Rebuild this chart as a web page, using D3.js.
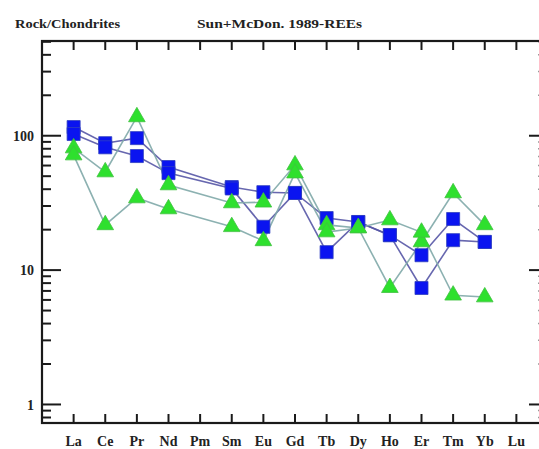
<!DOCTYPE html>
<html><head><meta charset="utf-8">
<script src="https://cdn.jsdelivr.net/npm/d3@7"></script>
<style>body{margin:0;background:#fff}svg{display:block}</style>
</head><body>
<script>
const elements = ["La","Ce","Pr","Nd","Pm","Sm","Eu","Gd","Tb","Dy","Ho","Er","Tm","Yb","Lu"];
// null = not analysed (Pm, Lu)
const blueA  = [116, 88, 96, 58.5, null, 41.5, 38, 37.5, 24.4, 22.8, 18.2, 12.9, 24, 16.2, null];
const blueB  = [103, 82, 70.6, 52.7, null, 40.5, 21, 37.5, 13.6, 22.8, 18.2, 7.36, 16.7, 16.2, null];
const greenA = [81, 53.7, 138, 43, null, 31.6, 32, 60.5, 21.7, 20.6, 7.4, 16.2, 37.5, 21.7, null];
const greenB = [71.8, 21.7, 34.4, 28.5, null, 21, 16.5, 52.7, 19.2, 20.6, 23.6, 19.1, 6.5, 6.3, null];
const yMajorTicks = [1, 10, 100];
const yTickLabels = ["1", "10", "100"];
const yLabel = "Rock/Chondrites";
const title = "Sun+McDon. 1989-REEs";

const W = 539, H = 449;
const L = 42, R = 548, T = 41, B = 423;
const svg = d3.select("body").append("svg").attr("width", W).attr("height", H);

const x = d3.scaleLinear().domain([0, elements.length + 1]).range([L, R]);
const y = d3.scaleLog().domain([0.728, 507]).range([B, T]);

const font = "'Liberation Serif','Times New Roman',serif";
const axisColor = "#1a1a1a";

// minor ticks
const minors = [];
[0.1, 1, 10, 100].forEach(d => { for (let k = 1; k <= 9; k++) { const v = d * k; if (v >= 0.728 && v <= 507 && !yMajorTicks.includes(v)) minors.push(v); } });

const g = svg.append("g");
// Left axis ticks
g.selectAll(".ylmaj").data(yMajorTicks).join("line")
  .attr("x1", L).attr("x2", L + 19).attr("y1", d => y(d)).attr("y2", d => y(d))
  .attr("stroke", axisColor).attr("stroke-width", 2);
g.selectAll(".ylmin").data(minors).join("line")
  .attr("x1", L).attr("x2", L + 9).attr("y1", d => y(d)).attr("y2", d => y(d))
  .attr("stroke", axisColor).attr("stroke-width", 2);
// Right axis ticks
g.selectAll(".yrmaj").data(yMajorTicks).join("line")
  .attr("x1", R).attr("x2", R - 19).attr("y1", d => y(d)).attr("y2", d => y(d))
  .attr("stroke", axisColor).attr("stroke-width", 2);
g.selectAll(".yrmin").data(minors).join("line")
  .attr("x1", R).attr("x2", R - 10).attr("y1", d => y(d)).attr("y2", d => y(d))
  .attr("stroke", "#999").attr("stroke-width", 1.5);
// top/bottom ticks
const idx = elements.map((e, i) => i + 1);
g.selectAll(".xt").data(idx).join("line")
  .attr("x1", d => x(d)).attr("x2", d => x(d)).attr("y1", T).attr("y2", T + 9)
  .attr("stroke", axisColor).attr("stroke-width", 2);
g.selectAll(".xb").data(idx).join("line")
  .attr("x1", d => x(d)).attr("x2", d => x(d)).attr("y1", B).attr("y2", B - 9)
  .attr("stroke", axisColor).attr("stroke-width", 2);
// frame
g.append("rect").attr("x", L).attr("y", T).attr("width", R - L).attr("height", B - T)
  .attr("fill", "none").attr("stroke", axisColor).attr("stroke-width", 2.2);

// tick labels
g.selectAll(".yl").data(yMajorTicks).join("text")
  .attr("x", 34).attr("y", d => y(d)).attr("dy", "0.36em").attr("text-anchor", "end")
  .attr("font-family", font).attr("font-size", 14).attr("font-weight", "bold").attr("fill", "#222")
  .text((d, i) => yTickLabels[i]);
g.selectAll(".xl").data(elements).join("text")
  .attr("x", (d, i) => x(i + 1)).attr("y", 446).attr("text-anchor", "middle")
  .attr("font-family", font).attr("font-size", 14).attr("font-weight", "bold").attr("fill", "#222")
  .text(d => d);

svg.append("text").attr("x", 15).attr("y", 28).attr("font-family", font).attr("font-size", 13)
  .attr("font-weight", "bold").attr("fill", "#222").attr("textLength", 105).attr("lengthAdjust", "spacingAndGlyphs").text(yLabel);
svg.append("text").attr("x", 197).attr("y", 28).attr("font-family", font).attr("font-size", 13)
  .attr("font-weight", "bold").attr("fill", "#222").attr("textLength", 165).attr("lengthAdjust", "spacingAndGlyphs").text(title);

// series
const series = [
  {vals: blueA, type: "sq", line: "#5656a6", fill: "#0a14f0"},
  {vals: blueB, type: "sq", line: "#5656a6", fill: "#0a14f0"},
  {vals: greenA, type: "tri", line: "#80a8a8", fill: "#2ee02e"},
  {vals: greenB, type: "tri", line: "#80a8a8", fill: "#2ee02e"}
];
const lineGen = d3.line().defined(d => d.v != null).x(d => x(d.i)).y(d => y(d.v));
const toPts = vals => vals.map((v, i) => ({i: i + 1, v})).filter(d => d.v != null);

series.forEach(s => {
  svg.append("path").datum(toPts(s.vals)).attr("d", lineGen)
    .attr("fill", "none").attr("stroke", s.line).attr("stroke-width", 1.6).attr("stroke-opacity", 0.9);
});
const sq = d3.symbol().type(d3.symbolSquare).size(170);
const tri = d3.symbol().type(d3.symbolTriangle).size(120);
series.forEach(s => {
  svg.append("g").selectAll("path").data(toPts(s.vals)).join("path")
    .attr("transform", d => `translate(${x(d.i)},${y(d.v)})`)
    .attr("d", s.type === "sq" ? sq : tri)
    .attr("fill", s.fill).attr("stroke", s.type === "sq" ? "#3040c0" : "#40c040").attr("stroke-width", 0.8);
});
</script>
</body></html>
